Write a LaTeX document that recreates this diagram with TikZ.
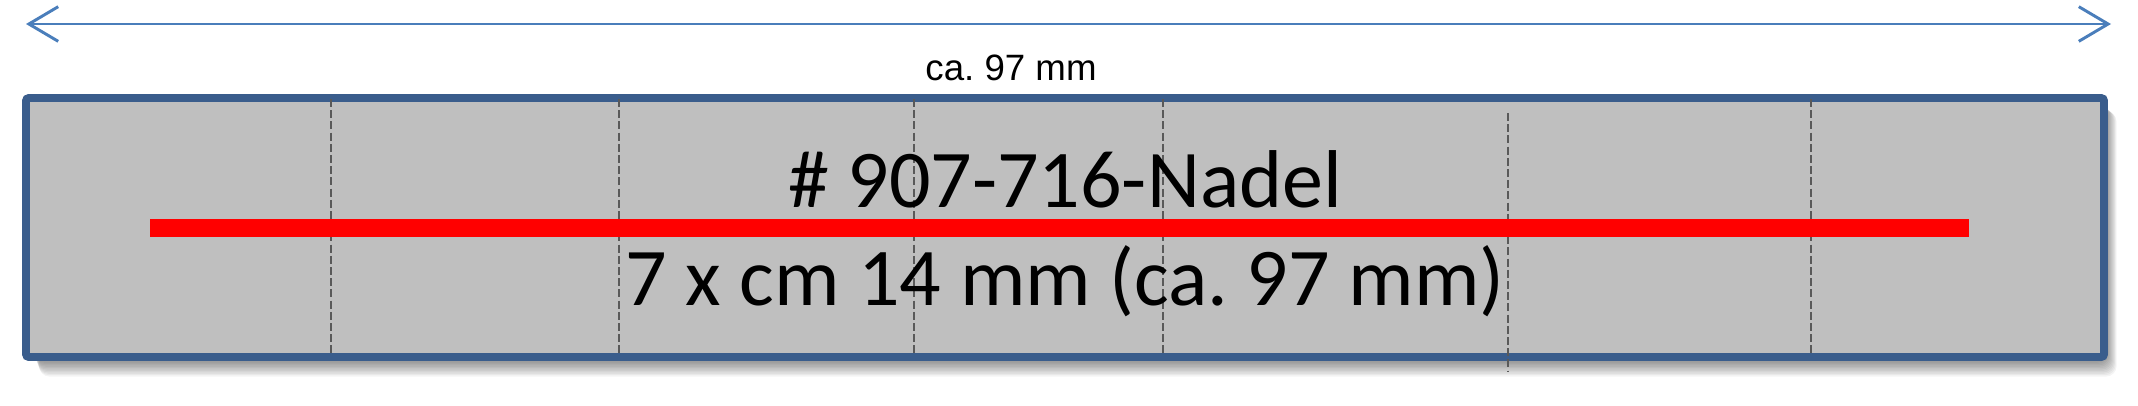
\documentclass[tikz,border=0pt]{standalone}
\usepackage{fontspec}
\setmainfont{Carlito}
\newfontfamily\arialfont{Liberation Sans}
\usetikzlibrary{arrows.meta}
\definecolor{borderblue}{HTML}{3A5D8C}
\definecolor{arrowblue}{HTML}{4A7EBB}
\definecolor{boxgray}{HTML}{BFBFBF}
\definecolor{dashgray}{HTML}{595959}
\tikzset{
  cutline/.style={draw=dashgray, line width=2.2pt, dash pattern=on 6pt off 2.4pt},
  dimarrow/.style={draw=arrowblue, line width=2.2pt, {Straight Barb[length=22pt,width=26pt,line width=2.2pt]}-{Straight Barb[length=22pt,width=26pt,line width=2.2pt]}},
  bigtext/.style={font=\frenchspacing\fontsize{61.5}{70}\selectfont, inner sep=0pt, anchor=base, text=black},
  smalltext/.style={font=\frenchspacing\arialfont\fontsize{27.5}{32}\selectfont, inner sep=0pt, anchor=base, text=black},
}
\begin{document}
\begin{tikzpicture}[x=0.75pt,y=-0.75pt]
\useasboundingbox (0,0) rectangle (2138,405);
% shadow
\foreach \k in {1,2,...,14}{
  \fill[black, opacity=0.045, rounded corners=8pt] (32+\k*0.5,100+\k*0.8) rectangle (2104+\k*0.9,357+\k*1.4);
}
% box
\filldraw[fill=boxgray, draw=borderblue, line width=5.8pt, rounded corners=2pt] (26,98) rectangle (2104,357);
% dashed cut lines
\foreach \xx/\nm in {331/a,619/b,914/c,1163/d,1811/f}{
  \coordinate (t\nm) at (\xx,99);
  \coordinate (b\nm) at (\xx,356);
  \draw[cutline] (t\nm) -- (b\nm);
}
\coordinate (te) at (1508,113);
\coordinate (be) at (1508,371);
\draw[cutline] (te) -- (be);
% red line
\coordinate (rl) at (150,228);
\coordinate (rr) at (1969,228);
\draw[red, line width=13.5pt] (rl) -- (rr);
% texts
\node[bigtext] (title) at (1065,207) {\# 907-716-Nadel};
\node[bigtext] (size) at (1065,305) {7 x cm 14 mm (ca. 97 mm)};
% dimension arrow
\coordinate (al) at (26,24);
\coordinate (ar) at (2111,24);
\draw[dimarrow] (al) -- (ar);
\node[smalltext] (dim) at (1011,80) {ca. 97 mm};
\end{tikzpicture}
\end{document}
